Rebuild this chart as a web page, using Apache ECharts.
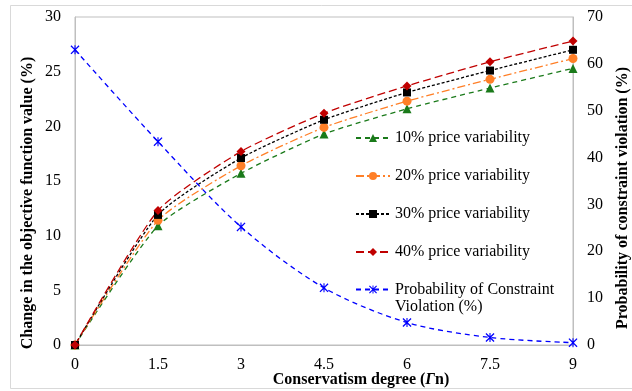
<!DOCTYPE html>
<html><head><meta charset="utf-8">
<script src="https://cdn.jsdelivr.net/npm/echarts@6/dist/echarts.min.js"></script>
<style>html,body{margin:0;padding:0;background:#fff}#c{width:632px;height:391px}</style>
</head><body><div id="c"></div>
<script>
const xValues = [0, 1.5, 3, 4.5, 6, 7.5, 9];
const v10 = [0, 10.9, 15.7, 19.3, 21.6, 23.5, 25.3];
const v20 = [0, 11.4, 16.4, 19.9, 22.3, 24.3, 26.2];
const v30 = [0, 11.9, 17.1, 20.6, 23.1, 25.1, 27.0];
const v40 = [0, 12.3, 17.7, 21.2, 23.7, 25.9, 27.8];
const prob = [63, 43.4, 25.2, 12.2, 4.8, 1.6, 0.5];
const names = ['10% price variability', '20% price variability', '30% price variability', '40% price variability', 'Probability of Constraint Violation (%)'];

const pair = arr => xValues.map((x, i) => [x, arr[i]]);
const starPath = 'path://M0,1 L1,0 L5,4 L9,0 L10,1 L6,5 L10,9 L9,10 L5,6 L1,10 L0,9 L4,5 Z M4.4,0 L5.6,0 L5.6,10 L4.4,10 Z';
const font = '"Liberation Serif", "Times New Roman", serif';

const mk = (name, data, color, symbol, size, dash, yIdx, smooth) => ({
  name, type: 'line', data: pair(data), yAxisIndex: yIdx, smooth: smooth,
  symbol, symbolSize: size, showAllSymbol: true,
  itemStyle: { color },
  lineStyle: { color, width: 1.3, type: dash },
  z: 3
});

const chart = echarts.init(document.getElementById('c'), null, { renderer: 'canvas' });
chart.setOption({
  animation: false,
  backgroundColor: '#fff',
  textStyle: { fontFamily: font },
  graphic: [{ type: 'rect', shape: { x: 10.5, y: 5.5, width: 625, height: 383 }, style: { fill: 'none', stroke: '#d9d9d9', lineWidth: 1 }, silent: true }],
  grid: { left: 75, right: 59, top: 17, bottom: 46, show: true, borderColor: '#bfbfbf', borderWidth: 1, outerBoundsMode: 'none', containLabel: false },
  legend: [{
    data: names.slice(0, 4), orient: 'vertical', left: 350, top: 125, itemGap: 22,
    itemWidth: 34, itemHeight: 10,
    textStyle: { fontFamily: font, fontSize: 16, color: '#000' }
  }, {
    data: [names[4]], orient: 'vertical', left: 350, top: 259,
    itemWidth: 34, itemHeight: 10,
    formatter: () => '\u00a0\nProbability of Constraint\nViolation (%)',
    textStyle: { fontFamily: font, fontSize: 16, color: '#000', lineHeight: 17 }
  }],
  xAxis: {
    type: 'value', min: 0, max: 9, interval: 1.5,
    name: '{b|Conservatism degree (}{i|Γ}{b|n)}', nameLocation: 'middle', nameGap: 27, nameMoveOverlap: false,
    nameTextStyle: { padding: [0, 0, 0, 74], rich: { b: { fontFamily: font, fontSize: 16, fontWeight: 'bold', color: '#000' }, i: { fontFamily: font, fontSize: 16, fontWeight: 'bold', fontStyle: 'italic', color: '#000' } } },
    axisLine: { lineStyle: { color: '#bfbfbf' } }, axisTick: { show: false },
    axisLabel: { fontFamily: font, fontSize: 16, color: '#000', margin: 12 },
    splitLine: { show: false }
  },
  yAxis: [{
    type: 'value', min: 0, max: 30, interval: 5,
    name: 'Change in the objective function value (%)', nameLocation: 'middle', nameGap: 39, nameMoveOverlap: false,
    nameTextStyle: { fontFamily: font, fontSize: 16, fontWeight: 'bold', color: '#000', padding: [0, 44, 0, 0] },
    axisLine: { show: true, lineStyle: { color: '#bfbfbf' } }, axisTick: { show: false },
    axisLabel: { fontFamily: font, fontSize: 16, color: '#000', margin: 14 },
    splitLine: { show: false }
  }, {
    type: 'value', min: 0, max: 70, interval: 10, position: 'right',
    name: 'Probability of constraint violation (%)', nameLocation: 'middle', nameGap: 42, nameMoveOverlap: false,
    nameRotate: 90,
    nameTextStyle: { fontFamily: font, fontSize: 16, fontWeight: 'bold', color: '#000', padding: [0, 34, 0, 0] },
    axisLine: { show: true, lineStyle: { color: '#bfbfbf' } }, axisTick: { show: false },
    axisLabel: { fontFamily: font, fontSize: 16, color: '#000', margin: 14 },
    splitLine: { show: false }
  }],
  series: [
    mk(names[0], v10, '#1a7a1a', 'triangle', 9, [5, 4], 0, 0.2),
    mk(names[1], v20, '#ff7f27', 'circle', 9, [8, 3, 2, 3], 0, 0.2),
    mk(names[2], v30, '#000000', 'rect', 8, [3, 2], 0, 0.2),
    mk(names[3], v40, '#c00000', 'diamond', 9, [8, 4], 0, 0.2),
    mk(names[4], prob, '#0000ff', starPath, 9, [5, 4], 1, 0.3)
  ]
});
</script></body></html>
